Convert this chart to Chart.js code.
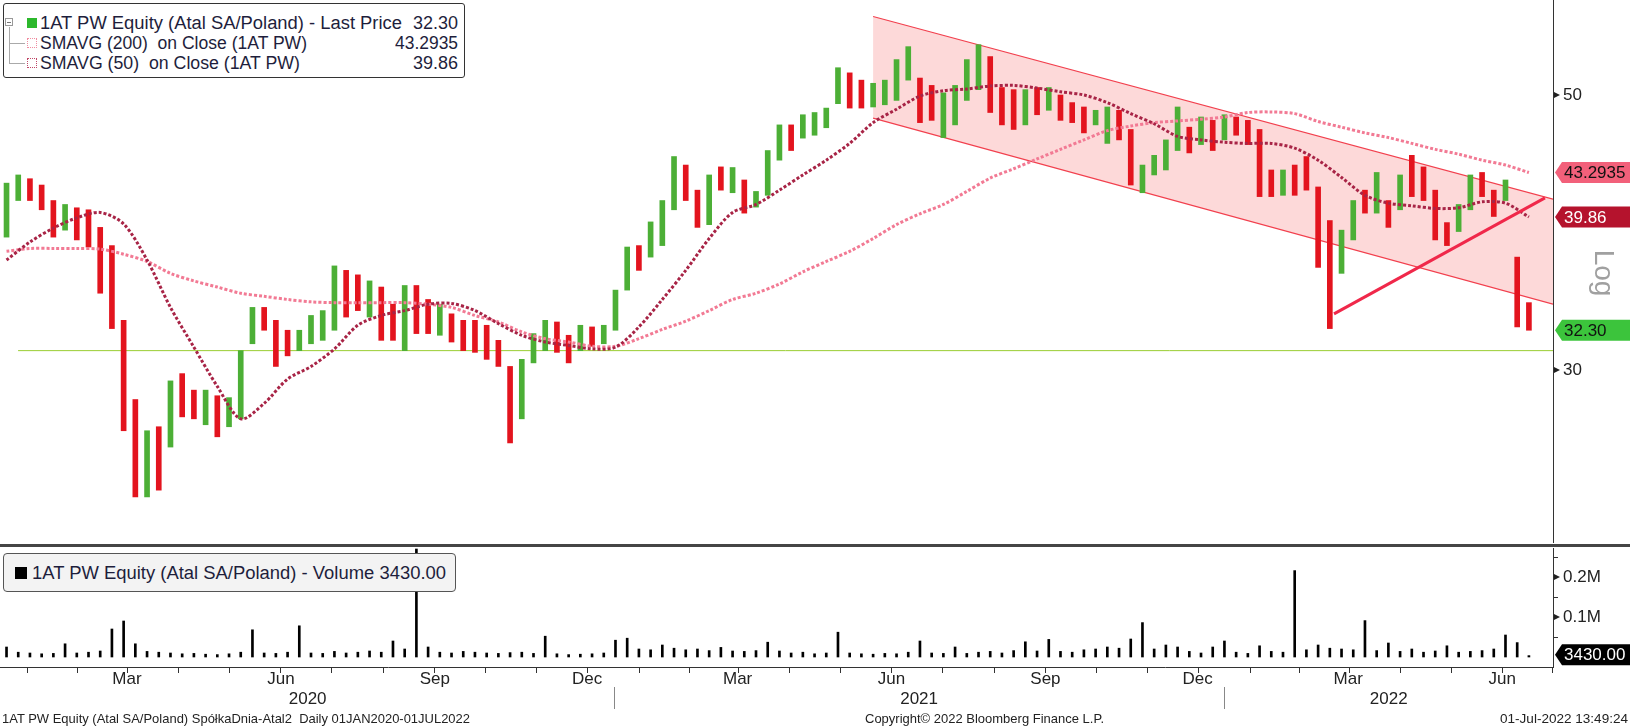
<!DOCTYPE html>
<html><head><meta charset="utf-8">
<script src="https://cdn.jsdelivr.net/npm/chart.js@4.4.0/dist/chart.umd.min.js"></script>
<style>
body{margin:0;width:1630px;height:727px;overflow:hidden;background:#fff;position:relative;font-family:"Liberation Sans",Arial,sans-serif}
canvas{position:absolute;left:0}
#c1{top:0}
#c2{top:548px}
.divider{position:absolute;left:0;top:544px;width:1630px;height:3px;background:#454545}
.box{position:absolute;box-sizing:border-box}
.t{position:absolute;white-space:nowrap;transform-origin:0 50%;line-height:20px;height:20px;color:#1e1e3c;font-size:18px}
.r{transform-origin:100% 50%}
.f{position:absolute;white-space:nowrap;transform-origin:0 50%;line-height:16px;height:16px;color:#222;font-size:13px}
</style></head>
<body>
<canvas id="c1" width="1630" height="543"></canvas>
<canvas id="c2" width="1630" height="179"></canvas>
<div class="divider"></div>

<div class="box" style="left:3px;top:3px;width:462px;height:75px;border:1px solid #333;border-radius:3px;background:#fff"></div>
<div class="box" style="left:5px;top:18px;width:8px;height:8px;border:1px solid #999;background:#fff"></div>
<div class="box" style="left:7px;top:22px;width:4px;height:1px;background:#777"></div>
<div class="box" style="left:9px;top:27px;width:1px;height:36px;background:#aaa"></div>
<div class="box" style="left:9px;top:43px;width:16px;height:1px;background:#aaa"></div>
<div class="box" style="left:9px;top:63px;width:16px;height:1px;background:#aaa"></div>
<div class="box" style="left:27px;top:18px;width:10px;height:10px;background:#2cb82c"></div>
<div class="box" style="left:27px;top:38px;width:10px;height:10px;border:1px dotted #f08ca0"></div>
<div class="box" style="left:27px;top:58px;width:10px;height:10px;border:1px dotted #c04868"></div>
<span class="t fit" data-w="362" style="left:40px;top:13px">1AT PW Equity (Atal SA/Poland) - Last Price</span>
<span class="t fit r" data-w="45" style="right:1172px;top:13px">32.30</span>
<span class="t fit" data-w="267" style="left:40px;top:33px">SMAVG (200)&nbsp; on Close (1AT PW)</span>
<span class="t fit r" data-w="63" style="right:1172px;top:33px">43.2935</span>
<span class="t fit" data-w="260" style="left:40px;top:53px">SMAVG (50)&nbsp; on Close (1AT PW)</span>
<span class="t fit r" data-w="45" style="right:1172px;top:53px">39.86</span>

<div class="box" style="left:3px;top:553px;width:453px;height:39px;border:1px solid #555;border-radius:4px;background:#f3f3f3"></div>
<div class="box" style="left:15px;top:567px;width:12px;height:12px;background:#000"></div>
<span class="t fit" data-w="414" style="left:32px;top:563px">1AT PW Equity (Atal SA/Poland) - Volume 3430.00</span>

<span class="f fit" data-w="468" style="left:2px;top:711px">1AT PW Equity (Atal SA/Poland) SpółkaDnia-Atal2&nbsp; Daily 01JAN2020-01JUL2022</span>
<span class="f fit" data-w="239" style="left:865px;top:711px">Copyright© 2022 Bloomberg Finance L.P.</span>
<span class="f fit" data-w="128" style="left:1500px;top:711px">01-Jul-2022 13:49:24</span>

<script>
// ---------- DATA (weekly readings from the picture) ----------
const weekLow = [38.4,41.1,41.1,40.4,38.4,38.9,38.2,37.7,34.6,32.4,
26.8,23.7,23.7,24.0,26.0,27.5,27.4,27.1,26.5,27.0,
27.4,31.5,32.3,30.2,30.8,31.1,31.5,31.7,32.3,33.1,
33.5,33.1,31.7,31.7,31.1,32.1,32.1,32.0,31.6,31.1,
31.0,30.6,30.2,26.2,27.4,30.4,31.1,31.0,30.4,31.1,
31.35,31.5,32.3,34.8,36.1,37.0,37.8,40.4,41.1,39.1,
39.3,41.9,41.7,40.15,40.6,41.5,44.3,45.1,46.15,46.4,
47.05,49.2,48.8,48.8,48.9,49.1,49.5,51.4,47.5,47.7,
46.2,47.3,49.5,50.5,48.4,47.3,46.9,47.3,48.2,48.6,
47.7,47.5,46.6,47.3,45.7,46.0,42.3,41.7,43.1,43.5,
45.1,44.9,45.6,45.1,46.0,46.4,45.6,41.4,41.4,41.5,
41.5,41.9,36.3,32.4,35.9,38.2,40.15,40.15,39.1,40.4,
41.4,41.1,38.2,37.8,38.8,40.4,41.4,39.9,41.1,32.5,
32.3];
const weekHigh = [42.45,43.1,42.8,42.3,41.1,40.8,40.55,40.4,39.1,37.8,
32.9,28.4,26.8,27.0,29.4,29.8,28.9,28.9,28.6,28.5,
31.1,33.7,33.7,32.9,32.3,32.3,33.2,33.5,36.4,36.1,
35.8,35.4,35.0,33.9,35.1,35.1,34.2,33.9,33.3,32.9,
32.9,32.6,31.7,30.2,30.6,32.1,32.9,32.8,32.0,32.6,
32.5,32.6,34.8,37.7,37.8,39.5,41.1,44.6,43.9,41.9,
43.1,43.75,43.7,42.7,41.8,45.1,47.3,47.3,48.2,48.4,
48.8,52.6,52.1,51.4,51.1,51.4,53.4,54.7,51.6,50.9,
50.2,50.9,53.4,54.9,53.7,50.7,50.5,50.5,50.7,50.7,
50.0,49.3,48.9,48.6,48.9,48.6,46.9,43.9,44.7,46.0,
48.9,47.1,48.0,47.7,48.2,48.0,47.7,46.9,43.5,43.5,
43.9,44.6,42.15,39.6,38.9,41.1,41.9,43.3,41.1,43.1,
44.7,43.75,41.9,39.45,40.8,43.1,43.3,41.9,42.7,37.0,
34.0];
const weekUp = [1,1,0,0,0,1,0,0,0,0, 0,0,1,0,1,0,0,1,0,1, 1,1,0,0,0,1,1,1,1,0,
0,1,0,0,1,0,0,1,0,0, 0,0,0,0,1,1,1,0,0,1, 0,1,1,1,0,1,1,1,0,0,
1,0,1,0,1,1,1,0,1,1, 1,1,0,0,1,1,1,1,0,0, 1,1,1,1,0,0,0,1,0,1,
0,0,0,1,1,0,0,1,1,1, 1,0,1,0,1,0,0,0,0,1, 0,0,0,0,1,1,0,1,0,1,
0,0,0,0,1,1,0,0,1,0, 0];
// SMAs read every second week
const sma50 = [36.8,38.05,39.05,39.8,40.2,39.35,36.8,33.7,31.3,29.1,
27.4,28.2,29.5,30.2,31.2,32.6,33.2,33.5,33.9,33.95,
33.5,32.7,32.0,31.6,31.4,31.2,31.3,32.5,34.2,36.1,
38.3,40.2,40.8,41.9,43.1,44.3,45.7,47.5,48.7,49.9,
50.4,50.56,50.84,50.9,50.65,50.3,50.0,49.3,48.3,47.4,
46.3,46.0,45.8,45.7,45.7,45.3,44.3,42.9,41.5,40.9,
40.7,40.5,40.55,41.0,40.9,39.86];
const sma200 = [37.4,37.6,37.6,37.6,37.55,37.2,36.7,35.9,35.4,35.0,
34.6,34.4,34.2,34.05,34.0,34.0,34.0,34.0,33.9,33.7,
33.2,32.8,32.2,31.8,31.6,31.35,31.35,31.8,32.35,32.85,
33.5,34.2,34.6,35.2,36.0,36.7,37.4,38.3,39.3,40.1,
40.8,41.8,42.85,43.6,44.4,45.2,46.0,46.8,47.2,47.5,
47.65,47.8,48.0,48.4,48.45,48.3,47.6,47.1,46.6,46.2,
45.7,45.2,44.8,44.3,43.9,43.2935];
const volume = [25000,12000,10000,8000,9000,33000,10000,12000,15000,70000,
90000,33000,14000,12000,10000,8000,9000,7000,6000,8000,
12000,68000,10000,9000,12000,78000,10000,9000,14000,10000,
12000,15000,12000,40000,20000,270000,25000,12000,10000,14000,
12000,10000,9000,11000,12000,9000,52000,8000,6000,7000,
8000,10000,42000,47000,20000,18000,30000,22000,18000,20000,
16000,24000,15000,14000,16000,37000,15000,10000,12000,8000,
10000,62000,10000,8000,7000,9000,8000,12000,40000,10000,
9000,25000,9000,12000,14000,10000,16000,38000,15000,44000,
14000,12000,18000,20000,25000,22000,45000,86000,20000,30000,
25000,14000,10000,25000,40000,12000,9000,28000,14000,12000,
216000,18000,30000,22000,20000,18000,91000,16000,35000,14000,
20000,12000,15000,28000,12000,14000,16000,20000,55000,36000,
3430];
// drawn studies (days since 2020-01-01, prices)
const channelDays = [521, 927.4], channelUpper = [57.85, 41.2], channelLower = [47.9, 33.9];
const supportDays = [796.5, 922.6], supportLine = [33.3, 41.3];
const levelDays = [9.9, 927.4], levelLine = [31.1, 31.1];
const lastPrice = 32.30, lastSma200 = 43.2935, lastSma50 = 39.86, lastVolume = 3430;
const priceTicks = [30, 50];
const volumeTicks = [50000, 100000, 150000, 200000, 250000];
const volumeTickLabels = {100000: '0.1M', 200000: '0.2M'};
const monthLabelNames = {3: 'Mar', 6: 'Jun', 9: 'Sep', 12: 'Dec'};
const yearLabels = ['2020', '2021', '2022'];

// ---------- helpers ----------
const dayOf = (y, m, d) => (Date.UTC(y, m - 1, d) - Date.UTC(2020, 0, 1)) / 86400000;
const wDay = i => 3 + 7 * i;
const X_MIN = -0.9, X_MAX = 927.4;
const monthStarts = [], monthLbls = [];
for (let y = 2020; y <= 2022; y++) for (let m = 1; m <= 12; m++) {
  const d = dayOf(y, m, 1);
  if (d > X_MAX) continue;
  monthStarts.push(d);
  if (monthLabelNames[m]) monthLbls.push({x: d + 15, t: monthLabelNames[m]});
}
const FONT = '"Liberation Sans", Arial, sans-serif';
const xy = (days, vals) => days.map((d, i) => ({x: d, y: vals[i]}));

function tag(ctx, y, fill, color, text) {
  ctx.save();
  ctx.beginPath();
  ctx.moveTo(1555, y); ctx.lineTo(1562, y - 10.5); ctx.lineTo(1630, y - 10.5);
  ctx.lineTo(1630, y + 10.5); ctx.lineTo(1562, y + 10.5); ctx.closePath();
  ctx.fillStyle = fill; ctx.fill();
  ctx.fillStyle = color; ctx.font = '17px ' + FONT; ctx.textBaseline = 'middle'; ctx.textAlign = 'left';
  ctx.fillText(text, 1564, y + 1);
  ctx.restore();
}
function arrow(ctx, y) {
  ctx.save(); ctx.fillStyle = '#222'; ctx.beginPath();
  ctx.moveTo(1554, y - 3); ctx.lineTo(1554, y + 3); ctx.lineTo(1560, y); ctx.closePath(); ctx.fill();
  ctx.restore();
}

const pricePlugin = {
  id: 'pricePlugin',
  afterDraw(chart) {
    const ctx = chart.ctx, ys = chart.scales.y;
    priceTicks.forEach(v => arrow(ctx, ys.getPixelForValue(v)));
    tag(ctx, ys.getPixelForValue(lastSma200), '#f2607a', '#111', '43.2935');
    tag(ctx, ys.getPixelForValue(lastSma50), '#b5132d', '#fff', '39.86');
    tag(ctx, ys.getPixelForValue(lastPrice), '#3cc43c', '#111', '32.30');
    ctx.save();
    ctx.translate(1593, 273); ctx.rotate(Math.PI / 2);
    ctx.font = '28px ' + FONT; ctx.fillStyle = '#a0a0a0'; ctx.textAlign = 'center'; ctx.textBaseline = 'middle';
    ctx.fillText('Log', 0, -10);
    ctx.restore();
  }
};

const volPlugin = {
  id: 'volPlugin',
  afterDraw(chart) {
    const ctx = chart.ctx, ys = chart.scales.y, xs = chart.scales.x;
    ctx.save();
    volumeTicks.forEach(v => {
      const y = ys.getPixelForValue(v);
      if (volumeTickLabels[v]) arrow(ctx, y);
      else { ctx.fillStyle = '#333'; ctx.fillRect(1553, Math.round(y), 5, 1); }
    });
    tag(ctx, ys.getPixelForValue(lastVolume) - 1, '#000', '#fff', '3430.00');
    ctx.font = '17px ' + FONT; ctx.fillStyle = '#222'; ctx.textAlign = 'center'; ctx.textBaseline = 'middle';
    monthLbls.forEach(m => ctx.fillText(m.t, xs.getPixelForValue(m.x), 131));
    const yStarts = [dayOf(2020, 1, 1), dayOf(2021, 1, 1), dayOf(2022, 1, 1)];
    yearLabels.forEach((t, i) => {
      const a = xs.getPixelForValue(Math.max(yStarts[i], X_MIN));
      const bDay = i < 2 ? yStarts[i + 1] : X_MAX;
      const b = xs.getPixelForValue(bDay);
      ctx.fillText(t, (a + b) / 2, 151);
    });
    ctx.fillStyle = '#888';
    [yStarts[1], yStarts[2]].forEach(d => ctx.fillRect(Math.round(xs.getPixelForValue(d)), 139, 1, 22));
    ctx.restore();
  }
};

const tickFont = {family: FONT, size: 17};
const yFit = w => s => { s.width = w; s.paddingTop = 0; s.paddingBottom = 0; };

new Chart(document.getElementById('c1'), {
  type: 'bar',
  data: {datasets: [
    {type: 'line', data: xy(channelDays, channelUpper), borderColor: '#f2404e', borderWidth: 1.2, pointRadius: 0,
     fill: '+1', backgroundColor: 'rgba(250,170,170,0.45)', order: 10},
    {type: 'line', data: xy(channelDays, channelLower), borderColor: '#f2404e', borderWidth: 1.2, pointRadius: 0, fill: false, order: 9},
    {type: 'line', data: xy(levelDays, levelLine), borderColor: '#9acd32', borderWidth: 1, pointRadius: 0, fill: false, order: 8},
    {type: 'bar', data: weekLow.map((lo, i) => ({x: wDay(i), y: [lo, weekHigh[i]]})),
     backgroundColor: weekUp.map(u => u ? '#4caf36' : '#e3141e'), barThickness: 5, grouped: false, order: 5},
    {type: 'line', data: sma200.map((v, i) => ({x: wDay(2 * i), y: v})), borderColor: '#f27a94', borderWidth: 3,
     borderDash: [3, 2], pointRadius: 0, tension: 0.3, fill: false, order: 3},
    {type: 'line', data: sma50.map((v, i) => ({x: wDay(2 * i), y: v})), borderColor: '#a82446', borderWidth: 3,
     borderDash: [3, 2], pointRadius: 0, tension: 0.3, fill: false, order: 2},
    {type: 'line', data: xy(supportDays, supportLine), borderColor: '#f0284a', borderWidth: 3, pointRadius: 0, fill: false, order: 1}
  ]},
  options: {
    responsive: false, animation: false, devicePixelRatio: 1, layout: {padding: 0},
    plugins: {legend: {display: false}, tooltip: {enabled: false}},
    scales: {
      x: {type: 'linear', min: X_MIN, max: X_MAX, display: false, offset: false},
      y: {type: 'logarithmic', position: 'right', min: 21.756, max: 59.65,
          afterBuildTicks: s => { s.ticks = priceTicks.map(v => ({value: v})); },
          afterFit: yFit(77),
          grid: {display: false, drawTicks: false},
          border: {display: true, color: '#333', width: 1},
          ticks: {padding: 10, color: '#222', font: tickFont, callback: v => String(v)}}
    }
  },
  plugins: [pricePlugin]
});

new Chart(document.getElementById('c2'), {
  type: 'bar',
  data: {datasets: [
    {data: volume.map((v, i) => ({x: wDay(i), y: v})), backgroundColor: '#000', barThickness: 2, grouped: false}
  ]},
  options: {
    responsive: false, animation: false, devicePixelRatio: 1, layout: {padding: 0},
    plugins: {legend: {display: false}, tooltip: {enabled: false}},
    scales: {
      x: {type: 'linear', min: X_MIN, max: X_MAX, offset: false, position: 'bottom',
          afterBuildTicks: s => { s.ticks = monthStarts.map(v => ({value: v})); },
          afterFit: s => { s.height = 60; s.paddingLeft = 0; s.paddingRight = 0; },
          grid: {display: true, drawOnChartArea: false, drawTicks: true, tickLength: 6, color: '#333'},
          border: {display: true, color: '#333', width: 1},
          ticks: {autoSkip: false, maxRotation: 0, callback: () => '', font: tickFont}},
      y: {position: 'right', min: -25000, max: 272500,
          afterBuildTicks: s => { s.ticks = volumeTicks.map(v => ({value: v})); },
          afterFit: yFit(77),
          grid: {display: false, drawTicks: false},
          border: {display: true, color: '#333', width: 1},
          ticks: {padding: 10, color: '#222', font: tickFont, callback: v => volumeTickLabels[v] || ''}}
    }
  },
  plugins: [volPlugin]
});

document.querySelectorAll('.fit').forEach(el => {
  const w = el.getBoundingClientRect().width;
  el.style.transform = 'scaleX(' + (+el.dataset.w / w) + ')';
});
</script>
</body></html>
